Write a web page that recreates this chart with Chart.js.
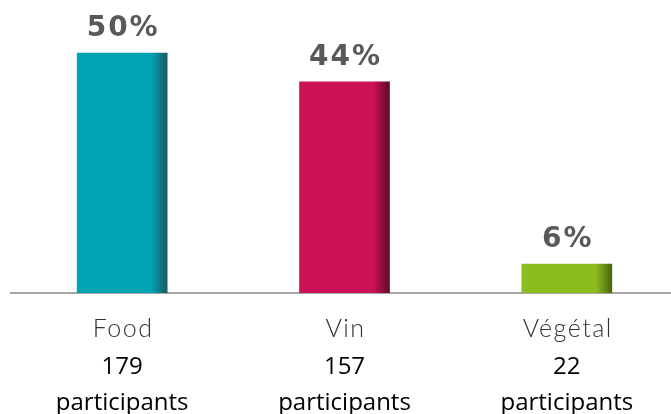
<!DOCTYPE html>
<html>
<head>
<meta charset="utf-8">
<script src="https://cdn.jsdelivr.net/npm/chart.js@4/dist/chart.umd.min.js"></script>
<style>
  html, body { margin: 0; padding: 0; background: #fff; overflow: hidden; }
  #wrap { width: 678px; height: 414px; }
</style>
</head>
<body>
<div id="wrap"><canvas id="chart" width="678" height="414"></canvas></div>
<script>
const categories = ["Food", "Vin", "Végétal"];
const shares = [50, 44, 6];
const participants = [179, 157, 22];
const barColors = ["#00a3b4", "#cc1256", "#8dbc1f"];
const shadeColors = ["#1c5a60", "#5e0a2a", "#4a6410"];

// horizontal gradient, darker on the right edge of each bar
function barFill(ctx) {
  const chart = ctx.chart;
  const i = ctx.dataIndex;
  if (!chart.chartArea) return barColors[i];
  const cx = chart.scales.x.getPixelForValue(i);
  const g = chart.ctx.createLinearGradient(cx - 45, 0, cx + 45, 0);
  g.addColorStop(0, barColors[i]);
  g.addColorStop(0.82, barColors[i]);
  g.addColorStop(1, shadeColors[i]);
  return g;
}

const valueLabels = {
  id: "valueLabels",
  afterDatasetsDraw(chart) {
    const c = chart.ctx;
    const meta = chart.getDatasetMeta(0);
    c.save();
    c.font = "bold 28px 'DejaVu Sans'";
    c.fillStyle = "#595959";
    c.textAlign = "center";
    c.textBaseline = "alphabetic";
    c.letterSpacing = "2px";
    meta.data.forEach((bar, i) => {
      c.fillText(shares[i] + "%", bar.x + 1, bar.y - 17);
    });
    c.restore();
  }
};

const bottomLabels = {
  id: "bottomLabels",
  afterDraw(chart) {
    const c = chart.ctx;
    const x = chart.scales.x;
    c.save();
    c.textAlign = "center";
    c.textBaseline = "alphabetic";
    categories.forEach((name, i) => {
      const px = x.getPixelForValue(i);
      c.font = "300 25px Lato";
      c.fillStyle = "#333";
      c.letterSpacing = "1.5px";
      c.fillText(name, px + 1, 337);
      c.letterSpacing = "0px";
      c.font = "24px 'Open Sans'";
      c.fillStyle = "#000";
      c.fillText(String(participants[i]), px, 374);
      c.fillText("participants", px, 410);
    });
    c.restore();
  }
};

new Chart(document.getElementById("chart"), {
  type: "bar",
  data: {
    labels: categories,
    datasets: [{
      data: shares,
      backgroundColor: barFill,
      barThickness: 90,
      borderWidth: 0
    }]
  },
  options: {
    responsive: false,
    animation: false,
    layout: { padding: { left: 11, right: 0, top: 5, bottom: 0 } },
    plugins: { legend: { display: false }, tooltip: { enabled: false } },
    scales: {
      x: {
        grid: { display: false, drawTicks: false },
        ticks: { display: false },
        border: { display: true, color: "#a6a6a6", width: 2 },
        afterFit(scale) { scale.height = 121; }
      },
      y: {
        display: false,
        min: 0,
        max: 60
      }
    }
  },
  plugins: [valueLabels, bottomLabels]
});
</script>
</body>
</html>
